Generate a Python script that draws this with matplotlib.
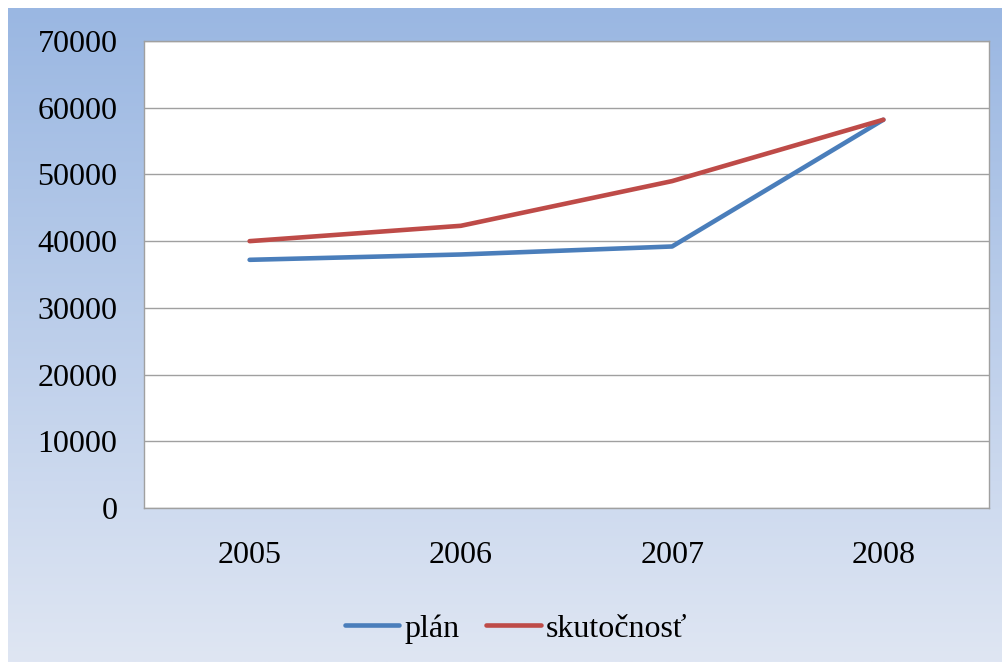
import numpy as np
import matplotlib.pyplot as plt

# Data
years = ["2005", "2006", "2007", "2008"]
plan = [37200, 38000, 39200, 58200]
skutocnost = [40000, 42300, 49000, 58200]
y_ticks = [0, 10000, 20000, 30000, 40000, 50000, 60000, 70000]

plt.rcParams["font.family"] = ["Liberation Serif", "DejaVu Serif"]

fig = plt.figure(figsize=(10.02, 6.62), dpi=100)

# gradient background of the chart area
bg = fig.add_axes([8 / 1002, 0, 994 / 1002, 654 / 662])
top_col = np.array([0x9a, 0xb7, 0xe2]) / 255
bot_col = np.array([0xdf, 0xe6, 0xf3]) / 255
t = np.linspace(0, 1, 256)[:, None]
grad = top_col * (1 - t) + bot_col * t
bg.imshow(grad[:, None, :].repeat(2, axis=1), aspect="auto", extent=[0, 1, 0, 1])
bg.set_axis_off()

ax = fig.add_axes([144 / 1002, 154 / 662, 845 / 1002, 467 / 662])
ax.set_facecolor("white")
x = np.arange(len(years))
ax.plot(x, plan, color="#4a7ebb", lw=3.3, label="plán", solid_capstyle="round")
ax.plot(x, skutocnost, color="#be4b48", lw=3.3, label="skutočnosť", solid_capstyle="round")

ax.set_ylim(0, 70000)
ax.set_xlim(-0.5, 3.5)
ax.set_yticks(y_ticks)
ax.set_yticklabels([str(v) for v in y_ticks])
ax.set_xticks(x)
ax.set_xticklabels(years)
ax.yaxis.grid(True, color="#a0a0a0", lw=1.0)
ax.set_axisbelow(True)
ax.tick_params(axis="y", length=0, pad=19, labelsize=23)
ax.tick_params(axis="x", length=0, pad=24, labelsize=23)
for s in ax.spines.values():
    s.set_color("#a0a0a0")
    s.set_linewidth(1.0)

fig.legend(loc="center", bbox_to_anchor=(0.515, 0.05), ncol=2, frameon=False,
           fontsize=23, handlelength=1.7, handletextpad=0.16, columnspacing=0.85)

fig.savefig("out.png", dpi=100)
